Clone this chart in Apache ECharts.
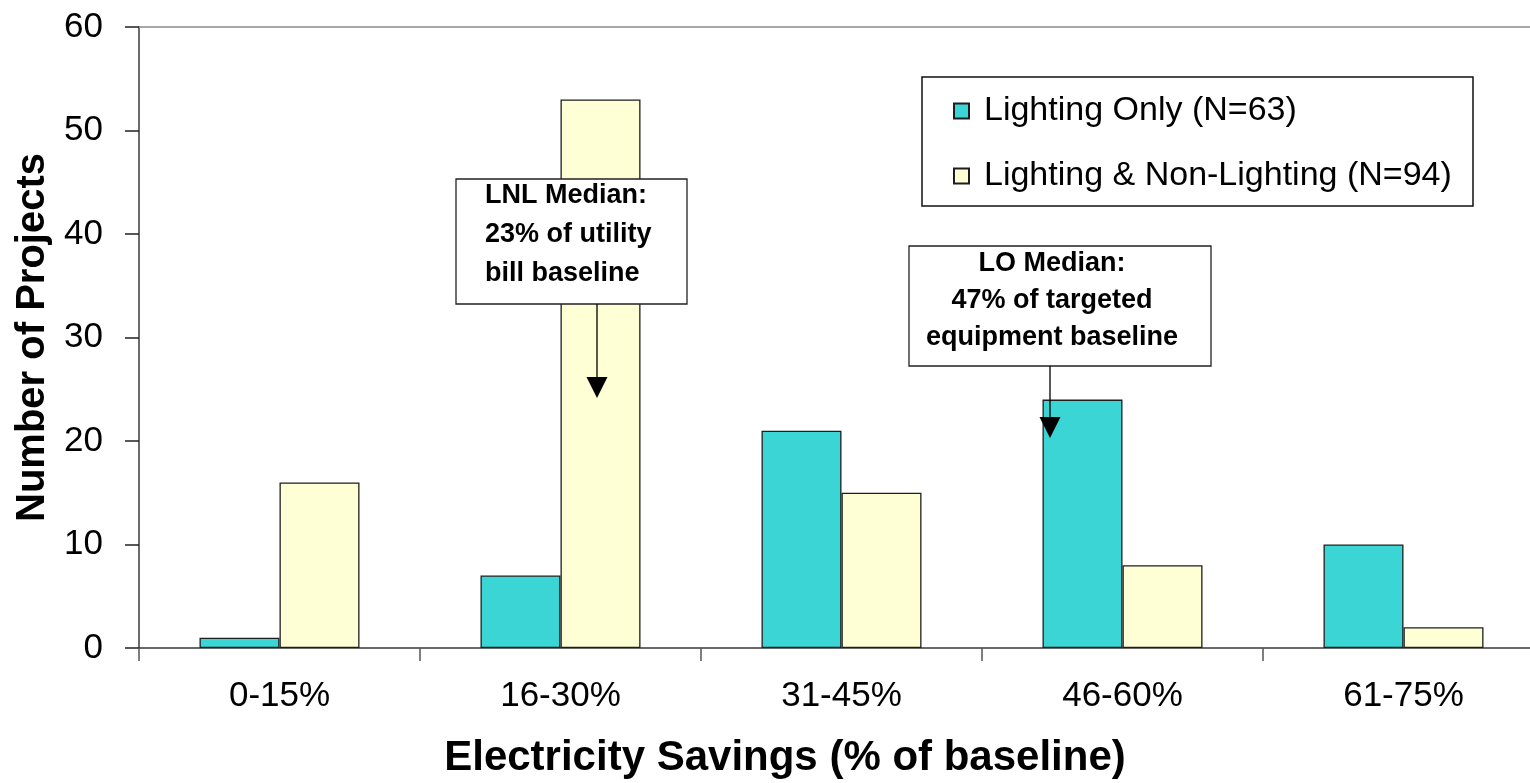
<!DOCTYPE html>
<html>
<head>
<meta charset="utf-8">
<title>Electricity Savings Distribution</title>
<script src="https://cdn.jsdelivr.net/npm/echarts@6/dist/echarts.min.js"></script>
<style>
  html, body { margin: 0; padding: 0; background: #ffffff; overflow: hidden; }
  #chart { width: 1530px; height: 783px; }
</style>
</head>
<body>
<div id="chart"></div>
<script>
// Savings bands on the category axis
const categories = ['0-15%', '16-30%', '31-45%', '46-60%', '61-75%'];
// Number of projects per savings band
const lightingOnly = [1, 7, 21, 24, 10];
const lightingNonLighting = [16, 53, 15, 8, 2];
// Value axis range
const yMin = 0;
const yMax = 60;
const yStep = 10;

const sum = arr => arr.reduce((a, b) => a + b, 0);
const nameLO = 'Lighting Only (N=' + sum(lightingOnly) + ')';
const nameLNL = 'Lighting & Non-Lighting (N=' + sum(lightingNonLighting) + ')';

const FONT = '"Liberation Sans", Arial, Helvetica, sans-serif';

const chart = echarts.init(document.getElementById('chart'), null, { renderer: 'canvas' });

const option = {
  backgroundColor: '#ffffff',
  animation: false,
  textStyle: { fontFamily: FONT, color: '#000' },
  // plot area runs slightly past the right edge of the canvas
  grid: {
    left: 139, top: 27, width: 1405, height: 621,
    containLabel: false,
    outerBoundsMode: 'none'
  },
  legend: {
    orient: 'vertical',
    left: 953,
    top: 94,
    padding: 0,
    itemGap: 31,
    itemWidth: 15,
    itemHeight: 15,
    icon: 'rect',
    selectedMode: false,
    textStyle: { fontFamily: FONT, fontSize: 34, color: '#000', padding: [0, 0, 0, 10] },
    data: [nameLO, nameLNL]
  },
  xAxis: [
    {
      type: 'category',
      data: categories,
      boundaryGap: true,
      axisLine: { show: true, lineStyle: { color: '#3a3a3a', width: 1.5 } },
      axisTick: { show: true, length: 13, lineStyle: { color: '#555', width: 1.5 } },
      axisLabel: { fontFamily: FONT, fontSize: 35, color: '#000', margin: 31 },
      splitLine: { show: false }
    },
    {
      // plot-area top border
      type: 'category',
      position: 'top',
      data: categories,
      axisLine: { show: true, onZero: false, lineStyle: { color: '#8a8a8a', width: 1.5 } },
      axisTick: { show: false },
      axisLabel: { show: false },
      splitLine: { show: false }
    }
  ],
  yAxis: {
    type: 'value',
    min: yMin,
    max: yMax,
    interval: yStep,
    name: 'Number of Projects',
    nameLocation: 'middle',
    nameGap: 83,
    nameTextStyle: { fontFamily: FONT, fontSize: 40, fontWeight: 'bold', color: '#000' },
    axisLine: { show: true, lineStyle: { color: '#3a3a3a', width: 1.5 } },
    axisTick: { show: true, length: 14, lineStyle: { color: '#222', width: 1.5 } },
    axisLabel: { fontFamily: FONT, fontSize: 35, color: '#000', margin: 36 },
    splitLine: { show: false }
  },
  series: [
    {
      name: nameLO,
      type: 'bar',
      data: lightingOnly,
      barWidth: 80,
      barGap: '0%',
      itemStyle: { color: '#3bd5d5', borderColor: '#1e1e1e', borderWidth: 1.3 }
    },
    {
      name: nameLNL,
      type: 'bar',
      data: lightingNonLighting,
      barWidth: 80,
      barGap: '0%',
      itemStyle: { color: '#ffffd6', borderColor: '#1e1e1e', borderWidth: 1.3 }
    }
  ],
  graphic: [
    // legend frame
    {
      type: 'rect', z: 1, silent: true,
      shape: { x: 922, y: 77, width: 551, height: 129 },
      style: { fill: '#ffffff', stroke: '#111', lineWidth: 1.5 }
    },
    // LNL median callout
    {
      type: 'rect', z: 10, silent: true,
      shape: { x: 456, y: 179, width: 231, height: 125 },
      style: { fill: '#ffffff', stroke: '#222', lineWidth: 1.3 }
    },
    {
      type: 'text', z: 11, silent: true,
      style: {
        text: 'LNL Median:\n23% of utility\nbill baseline',
        x: 485, y: 235,
        align: 'left', verticalAlign: 'middle',
        fontFamily: FONT, fontSize: 27, fontWeight: 'bold', lineHeight: 39,
        fill: '#000'
      }
    },
    {
      type: 'line', z: 11, silent: true,
      shape: { x1: 597, y1: 304, x2: 597, y2: 380 },
      style: { stroke: '#000', lineWidth: 1.3 }
    },
    {
      type: 'polygon', z: 11, silent: true,
      shape: { points: [[586.5, 377], [607.5, 377], [597, 398]] },
      style: { fill: '#000' }
    },
    // LO median callout
    {
      type: 'rect', z: 10, silent: true,
      shape: { x: 909, y: 246, width: 302, height: 120 },
      style: { fill: '#ffffff', stroke: '#222', lineWidth: 1.3 }
    },
    {
      type: 'text', z: 11, silent: true,
      style: {
        text: 'LO Median:\n47% of targeted\nequipment baseline',
        x: 1052, y: 301,
        align: 'center', verticalAlign: 'middle',
        fontFamily: FONT, fontSize: 27, fontWeight: 'bold', lineHeight: 37,
        fill: '#000'
      }
    },
    {
      type: 'line', z: 11, silent: true,
      shape: { x1: 1050, y1: 366, x2: 1050, y2: 420 },
      style: { stroke: '#000', lineWidth: 1.3 }
    },
    {
      type: 'polygon', z: 11, silent: true,
      shape: { points: [[1039.5, 417], [1060.5, 417], [1050, 438]] },
      style: { fill: '#000' }
    },
    // x-axis title
    {
      type: 'text', z: 5, silent: true,
      style: {
        text: 'Electricity Savings (% of baseline)',
        x: 785, y: 758,
        align: 'center', verticalAlign: 'middle',
        fontFamily: FONT, fontSize: 42, fontWeight: 'bold',
        fill: '#000'
      }
    }
  ]
};

chart.setOption(option);
</script>
</body>
</html>
